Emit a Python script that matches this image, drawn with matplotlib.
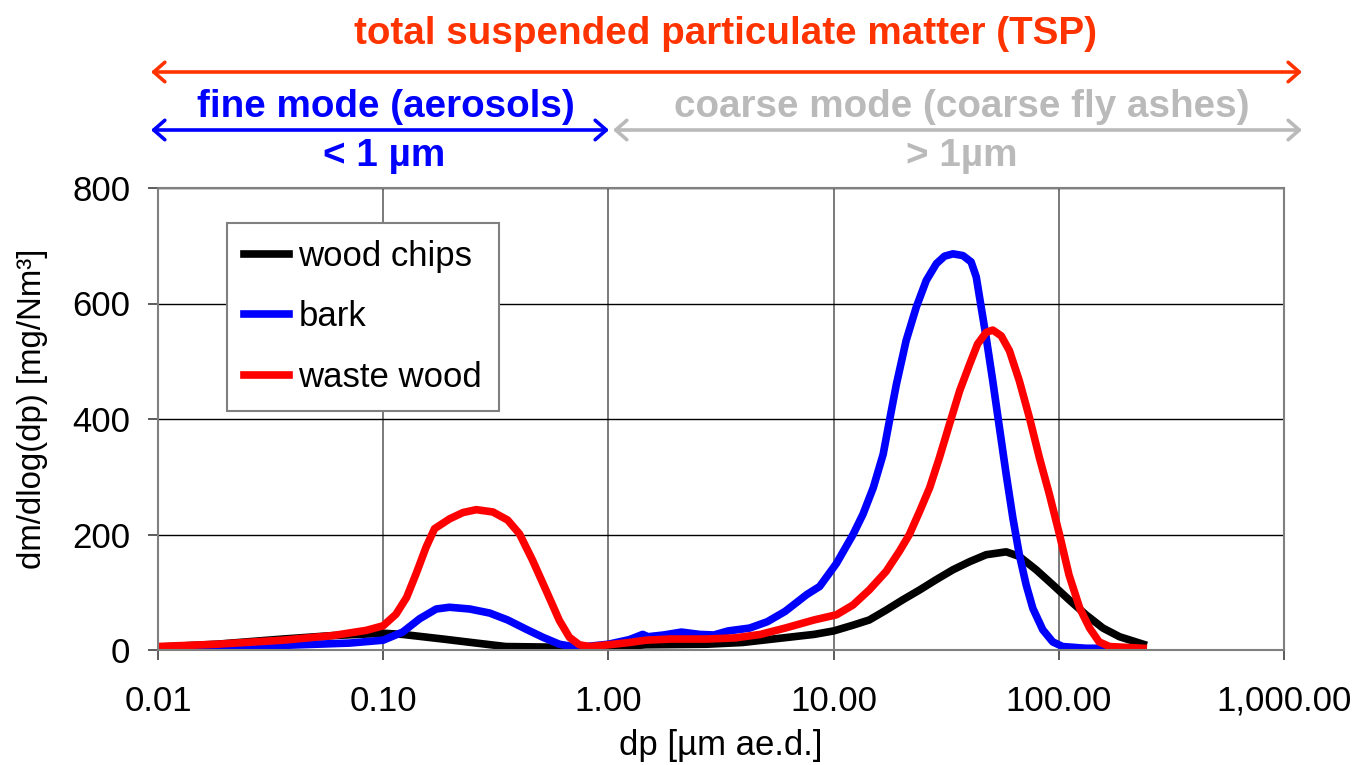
import matplotlib
matplotlib.use("Agg")
import matplotlib.pyplot as plt
from matplotlib.ticker import FixedLocator, NullLocator

plt.rcParams['font.family'] = ['Liberation Sans', 'DejaVu Sans']

# --- data ---
chips_dp = [0.01, 0.0182, 0.0359, 0.0598, 0.1, 0.122, 0.184, 0.259, 0.35, 0.547, 1.0,
            1.14, 1.47, 2.73, 3.94, 5.67, 8.18, 10.0, 12.2, 14.4, 17.1, 20.3, 24.1, 28.6,
            33.9, 40.2, 47.6, 58.4, 66.8, 79.3, 94, 111, 132, 157, 186, 237]
chips_val = [5, 10, 19, 25, 29, 27, 19, 12, 6, 5, 5,
             6, 9, 10, 13, 20, 27, 33, 43, 52, 69, 87, 104, 122,
             139, 153, 165, 170, 162, 139, 113, 87, 61, 38, 23, 10]

bark_dp = [0.01, 0.0359, 0.071, 0.1, 0.122, 0.145, 0.172, 0.197, 0.242, 0.297, 0.357,
           0.431, 0.512, 0.606, 0.695, 0.796, 1.0, 1.24, 1.42, 1.5, 1.76, 2.11, 2.54,
           2.94, 3.4, 4.24, 5.08, 6.1, 7.6, 8.67, 10.3, 12.2, 13.5, 15.0, 16.6, 17.7,
           19.0, 21.0, 23.3, 25.8, 28.6, 31.1, 33.9, 37.5, 40.8, 43.0, 45.2, 47.6, 50.9,
           54.5, 58.4, 62.5, 66.8, 71.6, 76.7, 84.9, 94.0, 104, 132, 157]
bark_val = [5, 8, 12, 17, 31, 54, 71, 74, 71, 64, 52,
            36, 22, 10, 6, 6, 10, 18, 27, 23, 26, 31, 27,
            26, 33, 38, 49, 67, 96, 110, 150, 200, 235, 281, 339, 397,
            460, 536, 594, 640, 669, 682, 686, 683, 672, 646, 594, 541, 466,
            385, 304, 229, 165, 113, 72, 35, 14, 6, 3, 3]

waste_dp = [0.01, 0.0182, 0.0359, 0.0598, 0.0841, 0.1, 0.114, 0.127, 0.14, 0.155, 0.169,
            0.197, 0.226, 0.259, 0.307, 0.357, 0.403, 0.461, 0.529, 0.606, 0.671, 0.743,
            0.824, 1.0, 1.24, 1.47, 1.9, 2.73, 3.66, 4.73, 6.1, 8.18, 10.3, 12.2, 14.4,
            17.1, 19.6, 21.7, 24.1, 26.7, 29.5, 32.7, 36.3, 40.2, 43.6, 47.6, 50.9, 55.5,
            60.4, 66.8, 74.1, 82.0, 90.9, 100.7, 111, 124, 137, 151, 168, 237]
waste_val = [6, 10, 17, 25, 34, 42, 62, 91, 132, 178, 210,
             227, 238, 243, 239, 225, 201, 155, 103, 51, 22, 9,
             6, 9, 13, 17, 19, 19, 21, 27, 38, 52, 61, 78, 104,
             136, 171, 200, 240, 281, 333, 391, 449, 495, 530, 550, 554, 544,
             518, 466, 402, 333, 269, 200, 130, 72, 38, 14, 6, 3]

series = [("wood chips", chips_dp, chips_val, "#000000"),
          ("bark", bark_dp, bark_val, "#0000FF"),
          ("waste wood", waste_dp, waste_val, "#FF0000")]

x_ticks = [0.01, 0.1, 1, 10, 100, 1000]
x_tick_labels = ["0.01", "0.10", "1.00", "10.00", "100.00", "1,000.00"]
y_ticks = [0, 200, 400, 600, 800]

W, H = 1357, 765
fig = plt.figure(figsize=(W / 100, H / 100), dpi=100)
ax = fig.add_axes([158 / W, 1 - 650 / H, (1284 - 158) / W, (650 - 188) / H])


def fx(px):
    return px / W


def fy(py):
    return 1 - py / H


for name, dp, val, col in series:
    ax.plot(dp, val, color=col, lw=5.5, label=name, solid_joinstyle='round')

ax.set_xscale('log')
ax.set_xlim(0.01, 1000)
ax.set_ylim(0, 800)
ax.xaxis.set_major_locator(FixedLocator(x_ticks))
ax.xaxis.set_minor_locator(NullLocator())
ax.set_xticklabels(x_tick_labels)
ax.set_yticks(y_ticks)

ax.grid(axis='y', color='black', lw=1.0)
ax.grid(axis='x', color='#707070', lw=1.3)
ax.set_axisbelow(True)
for sp in ax.spines.values():
    sp.set_color('#808080')
    sp.set_linewidth(1.5)

ax.tick_params(axis='both', direction='out', length=7, width=1.2, color='#404040',
               labelsize=25)
ax.tick_params(axis='x', pad=18)
ax.tick_params(axis='y', pad=13)

ax.set_xlabel("dp [µm ae.d.]", fontsize=25, labelpad=8)
ax.set_ylabel("dm/dlog(dp) [mg/Nm³]", fontsize=23.8, labelpad=17)
ax.yaxis.label.set_y(0.522)

leg = ax.legend(loc='upper left', bbox_to_anchor=(fx(227), fy(223)),
                bbox_transform=fig.transFigure, borderaxespad=0, fontsize=25,
                handlelength=1.3, handletextpad=0.28, labelspacing=0.8,
                borderpad=0.48, fancybox=False, framealpha=1)
leg.get_frame().set_edgecolor('#808080')
leg.get_frame().set_linewidth(1.5)

# annotations above the plot
red_c = '#FF3300'
blue_c = '#0000FF'
grey_c = '#BABABA'

fig.text(fx(726), fy(44), "total suspended particulate matter (TSP)", color=red_c,
         fontsize=27.8, fontweight='bold', ha='center', va='baseline')
fig.text(fx(386), fy(117), "fine mode (aerosols)", color=blue_c,
         fontsize=27.8, fontweight='bold', ha='center', va='baseline')
fig.text(fx(962), fy(117), "coarse mode (coarse fly ashes)", color=grey_c,
         fontsize=27.8, fontweight='bold', ha='center', va='baseline')
fig.text(fx(384), fy(166), "< 1 µm", color=blue_c,
         fontsize=27.8, fontweight='bold', ha='center', va='baseline')
fig.text(fx(962), fy(166), "> 1µm", color=grey_c,
         fontsize=27.8, fontweight='bold', ha='center', va='baseline')


def arrow(x0, x1, y, col):
    fig.add_artist(matplotlib.patches.FancyArrowPatch(
        (fx(x0), fy(y)), (fx(x1), fy(y)), transform=fig.transFigure,
        arrowstyle='<->,head_length=0.4,head_width=0.35', mutation_scale=20,
        color=col, lw=2.6, shrinkA=0, shrinkB=0))


arrow(151, 1302, 72, red_c)
arrow(151, 609, 130, blue_c)
arrow(613, 1302, 130, grey_c)

fig.savefig("out.png", dpi=100)
